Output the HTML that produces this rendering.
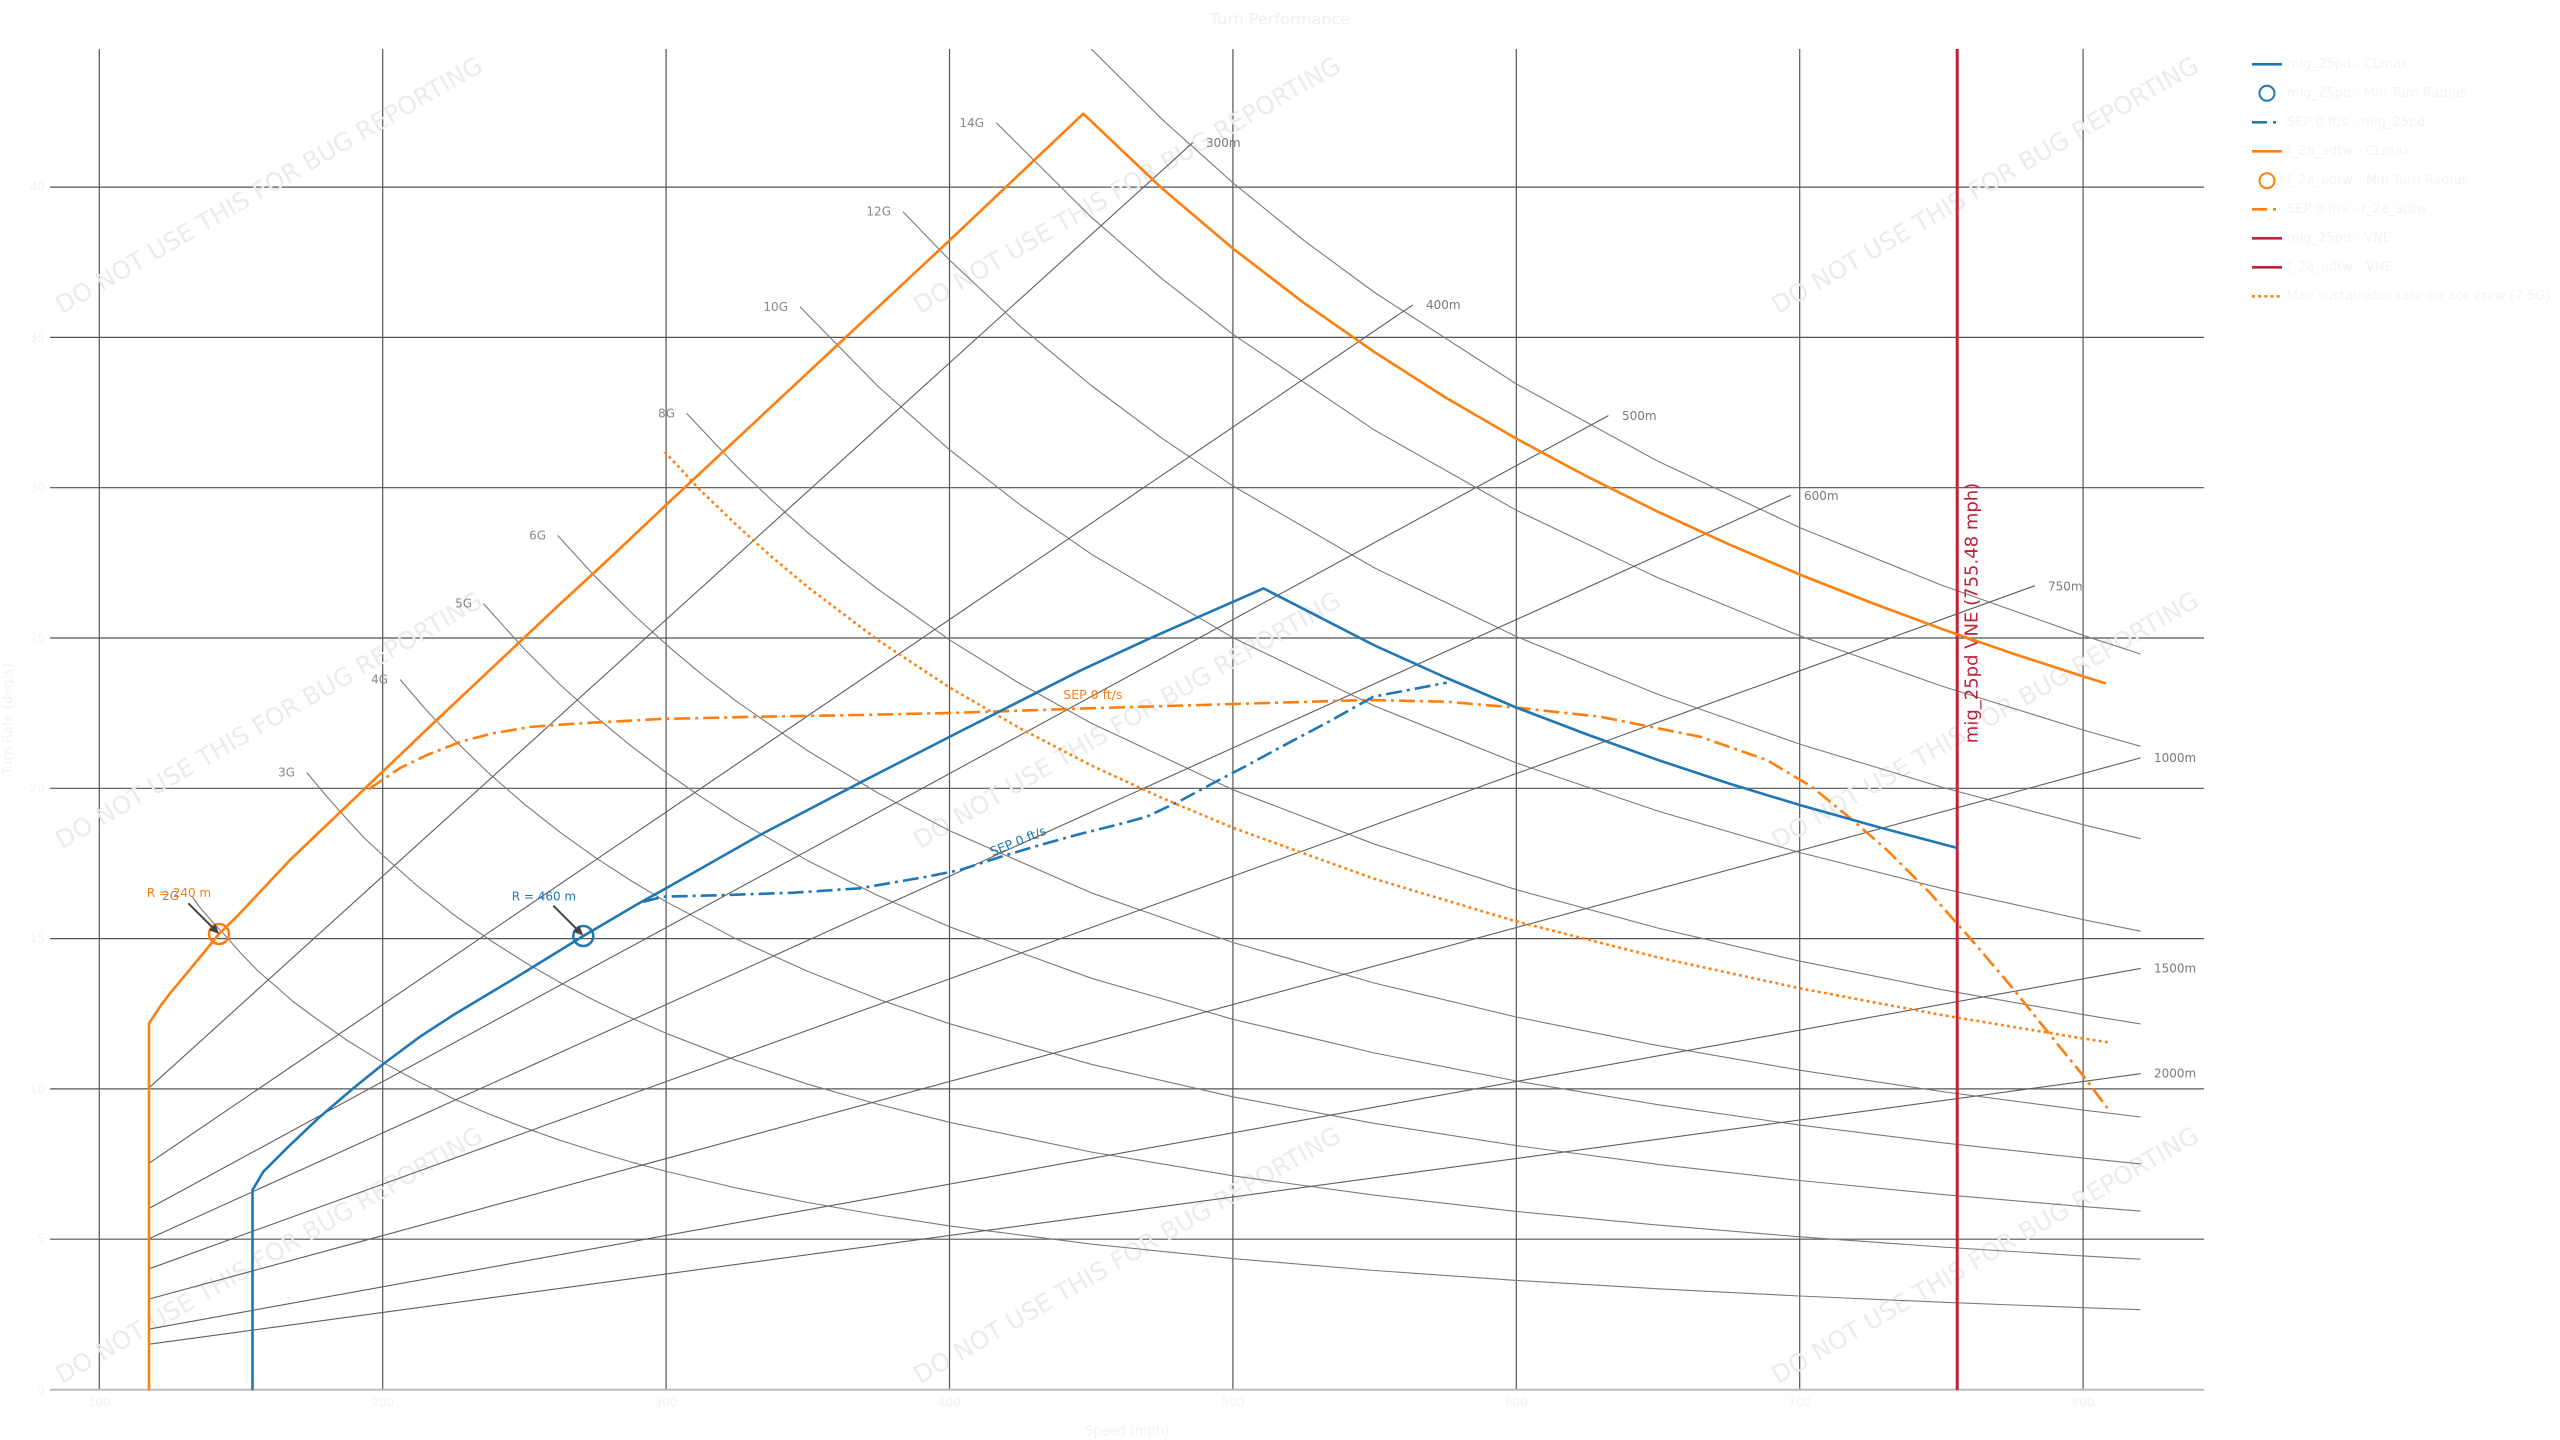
<!DOCTYPE html>
<html>
<head>
<meta charset="utf-8">
<style>
html,body{margin:0;padding:0;background:#ffffff;}
svg{display:block;}
text{font-family:"DejaVu Sans","Liberation Sans",sans-serif;}
.wm{font-family:"Liberation Sans","DejaVu Sans",sans-serif;font-size:24.5px;fill:#ebebeb;}
.gl{fill:none;stroke:#7a7a7a;stroke-width:1.1;stroke-linejoin:round;}
.rl{fill:none;stroke:#5e5e5e;stroke-width:1.1;}
.glab{font-size:12px;fill:#888888;}
.rlab{font-size:12px;fill:#7a7a7a;}
.tick{font-size:12px;fill:#f2f2f2;}
.leg{font-size:13px;fill:#f3f3f3;}
</style>
</head>
<body>
<svg width="2560" height="1440" viewBox="0 0 2560 1440" xmlns="http://www.w3.org/2000/svg">
<defs>
<clipPath id="ax"><rect x="50" y="49" width="2154" height="1341"/></clipPath>
</defs>
<rect x="0" y="0" width="2560" height="1440" fill="#ffffff"/>

<!-- title -->
<text x="1280" y="19" text-anchor="middle" dominant-baseline="central" font-size="16" fill="#f0f0f0">Turn Performance</text>

<!-- gridlines -->
<g stroke="#555555" stroke-width="1.2">
<line x1="99.3" y1="49" x2="99.3" y2="1389.5"/>
<line x1="382.7" y1="49" x2="382.7" y2="1389.5"/>
<line x1="666.1" y1="49" x2="666.1" y2="1389.5"/>
<line x1="949.5" y1="49" x2="949.5" y2="1389.5"/>
<line x1="1232.9" y1="49" x2="1232.9" y2="1389.5"/>
<line x1="1516.3" y1="49" x2="1516.3" y2="1389.5"/>
<line x1="1799.7" y1="49" x2="1799.7" y2="1389.5"/>
<line x1="2083.1" y1="49" x2="2083.1" y2="1389.5"/>
<line x1="50" y1="187.1" x2="2204" y2="187.1"/>
<line x1="50" y1="337.4" x2="2204" y2="337.4"/>
<line x1="50" y1="487.7" x2="2204" y2="487.7"/>
<line x1="50" y1="638" x2="2204" y2="638"/>
<line x1="50" y1="788.3" x2="2204" y2="788.3"/>
<line x1="50" y1="938.6" x2="2204" y2="938.6"/>
<line x1="50" y1="1088.9" x2="2204" y2="1088.9"/>
<line x1="50" y1="1239.2" x2="2204" y2="1239.2"/>
</g>
<line x1="50" y1="1389.7" x2="2204" y2="1389.7" stroke="#bbbbbb" stroke-width="2"/>

<!-- tick labels -->
<g class="tick" text-anchor="end" dominant-baseline="central">
<text x="45" y="1389.5">0</text>
<text x="45" y="1239.2">5</text>
<text x="45" y="1088.9">10</text>
<text x="45" y="938.6">15</text>
<text x="45" y="788.3">20</text>
<text x="45" y="638">25</text>
<text x="45" y="487.7">30</text>
<text x="45" y="337.4">35</text>
<text x="45" y="187.1">40</text>
</g>
<g class="tick" text-anchor="middle" dominant-baseline="central">
<text x="99.3" y="1402.5">100</text>
<text x="382.7" y="1402.5">200</text>
<text x="666.1" y="1402.5">300</text>
<text x="949.5" y="1402.5">400</text>
<text x="1232.9" y="1402.5">500</text>
<text x="1516.3" y="1402.5">600</text>
<text x="1799.7" y="1402.5">700</text>
<text x="2083.1" y="1402.5">800</text>
</g>
<text x="1127" y="1431.7" text-anchor="middle" dominant-baseline="central" font-size="13" fill="#f2f2f2">Speed (mph)</text>
<text transform="translate(12,719) rotate(-90)" text-anchor="middle" font-size="13" fill="#f2f2f2">Turn Rate (deg/s)</text>

<!-- watermarks -->
<g class="wm" text-anchor="middle" dominant-baseline="central">
<text x="269" y="185" transform="rotate(-30 269 185)">DO NOT USE THIS FOR BUG REPORTING</text>
<text x="1127" y="185" transform="rotate(-30 1127 185)">DO NOT USE THIS FOR BUG REPORTING</text>
<text x="1985" y="185" transform="rotate(-30 1985 185)">DO NOT USE THIS FOR BUG REPORTING</text>
<text x="269" y="720" transform="rotate(-30 269 720)">DO NOT USE THIS FOR BUG REPORTING</text>
<text x="1127" y="720" transform="rotate(-30 1127 720)">DO NOT USE THIS FOR BUG REPORTING</text>
<text x="1985" y="720" transform="rotate(-30 1985 720)">DO NOT USE THIS FOR BUG REPORTING</text>
<text x="269" y="1255" transform="rotate(-30 269 1255)">DO NOT USE THIS FOR BUG REPORTING</text>
<text x="1127" y="1255" transform="rotate(-30 1127 1255)">DO NOT USE THIS FOR BUG REPORTING</text>
<text x="1985" y="1255" transform="rotate(-30 1985 1255)">DO NOT USE THIS FOR BUG REPORTING</text>
</g>

<g clip-path="url(#ax)">
<!-- G lines -->
<polyline class="gl" points="191.7,896.0 200,907.5 212.7,922.1 226,936.4 240.9,953.2 258,971 276.4,986.8 293,1001.5 311.9,1015.5 347.3,1040.5 382.7,1062.3 418.1,1081.5 453.55,1098.7 489.0,1114.0 524.4,1127.7 559.8,1140.2 595.25,1151.5 630.7,1161.9 666.1,1171.4 736.95,1188.1 807.8,1202.5 878.65,1215.0 949.5,1225.9 1091.2,1244.1 1232.9,1258.6 1374.6,1270.5 1516.3,1280.4 1658,1288.8 1799.7,1296.0 1941.4,1302.2 2083.1,1307.7 2140.6,1309.7"/>
<polyline class="gl" points="306.7,772.5 326,795.5 347.3,819.6 364,837.6 382.7,855.2 418.1,886.6 453.55,914.55 489.0,939.5 524.4,962.0 559.8,982.4 595.25,1000.9 630.7,1017.8 666.1,1033.3 736.95,1060.7 807.8,1084.2 878.65,1104.5 949.5,1122.3 1091.2,1152.0 1232.9,1175.8 1374.6,1195.2 1516.3,1211.4 1658,1225.1 1799.7,1236.8 1941.4,1247.0 2083.1,1255.9 2140.6,1259.2"/>
<polyline class="gl" points="400,679.5 425.2,708.9 453.55,739.1 489.0,773.4 524.4,804.2 559.8,832.1 595.25,857.4 630.7,880.5 666.1,901.7 736.95,939.3 807.8,971.4 878.65,999.3 949.5,1023.7 1091.2,1064.3 1232.9,1096.8 1374.6,1123.4 1516.3,1145.6 1658,1164.4 1799.7,1180.5 1941.4,1194.4 2083.1,1206.6 2140.6,1211.1"/>
<polyline class="gl" points="483.3,603.5 524.4,649.1 559.8,684.4 595.25,716.4 630.7,745.7 666.1,772.5 701.5,797.2 736.95,820.0 807.8,860.7 878.65,895.9 949.5,926.8 1091.2,978.2 1232.9,1019.3 1374.6,1053.0 1516.3,1081.0 1658,1104.7 1799.7,1125.1 1941.4,1142.7 2083.1,1158.1 2140.6,1163.9"/>
<polyline class="gl" points="557.6,535.4 595.25,576.7 630.7,612.0 666.1,644.4 701.5,674.2 736.95,701.7 807.8,750.9 878.65,793.4 949.5,830.7 1091.2,892.8 1232.9,942.5 1374.6,983.1 1516.3,1017.0 1658,1045.6 1799.7,1070.2 1941.4,1091.5 2083.1,1110.1 2140.6,1117.0"/>
<polyline class="gl" points="686.5,413.3 736.95,466.8 772.4,500.9 807.8,532.7 843.2,562.2 878.65,589.8 949.5,639.8 1020.35,683.9 1091.2,723.1 1232.9,789.7 1374.6,844.2 1516.3,889.7 1658,928.1 1799.7,961.1 1941.4,989.6 2083.1,1014.6 2140.6,1023.9"/>
<polyline class="gl" points="799.9,306.8 878.65,387.0 949.5,449.7 1020.35,505.0 1091.2,554.1 1232.9,637.6 1374.6,706.0 1516.3,762.9 1658,811.1 1799.7,852.5 1941.4,888.3 2083.1,919.6 2140.6,931.2"/>
<polyline class="gl" points="903.0,211.7 949.5,260.0 1020.35,326.4 1091.2,385.5 1162.05,438.3 1232.9,485.9 1374.6,568.0 1516.3,636.5 1658,694.4 1799.7,744.1 1941.4,787.1 2083.1,824.7 2140.6,838.7"/>
<polyline class="gl" points="996.3,122.8 1091.2,217.1 1162.05,278.8 1232.9,334.3 1374.6,430.2 1516.3,510.2 1658,577.8 1799.7,635.8 1941.4,686.0 2083.1,730.0 2140.6,746.3"/>
<polyline class="gl" points="1077.0,33.7 1091.2,48.8 1162.05,119.3 1232.9,182.8 1303.75,240.3 1374.6,292.5 1516.3,383.9 1658,461.3 1799.7,527.6 1941.4,585.1 2083.1,635.3 2140.6,654.0"/>

<!-- radius lines -->
<line class="rl" x1="149.2" y1="1087.7" x2="1192.7" y2="142.7"/>
<line class="rl" x1="149.2" y1="1163.1" x2="1412.8" y2="304.9"/>
<line class="rl" x1="149.2" y1="1208.4" x2="1608.4" y2="415.6"/>
<line class="rl" x1="149.2" y1="1238.6" x2="1790.6" y2="495.4"/>
<line class="rl" x1="149.2" y1="1268.8" x2="2034.9" y2="585.7"/>
<line class="rl" x1="149.2" y1="1299.0" x2="2140.6" y2="757.9"/>
<line class="rl" x1="149.2" y1="1329.1" x2="2140.6" y2="968.4"/>
<line class="rl" x1="149.2" y1="1344.2" x2="2140.6" y2="1073.7"/>
</g>

<!-- G labels -->
<g class="glab" text-anchor="end" dominant-baseline="central">
<text x="179" y="896">2G</text>
<text x="295" y="772.5">3G</text>
<text x="388" y="679.5">4G</text>
<text x="472" y="603.5">5G</text>
<text x="546" y="535.4">6G</text>
<text x="675" y="413.3">8G</text>
<text x="788" y="306.8">10G</text>
<text x="891" y="211.7">12G</text>
<text x="984" y="122.8">14G</text>
</g>
<!-- radius labels -->
<g class="rlab" dominant-baseline="central">
<text x="1206" y="143">300m</text>
<text x="1426" y="305">400m</text>
<text x="1622" y="416">500m</text>
<text x="1804" y="496">600m</text>
<text x="2048" y="586.7">750m</text>
<text x="2154" y="758">1000m</text>
<text x="2154" y="968.4">1500m</text>
<text x="2154" y="1073.7">2000m</text>
</g>

<!-- VNE -->
<line x1="1957.2" y1="49" x2="1957.2" y2="1390" stroke="#c0203a" stroke-width="3"/>
<text transform="translate(1977.4,613) rotate(-90)" text-anchor="middle" font-size="18" fill="#c0203a">mig_25pd VNE (755.48 mph)</text>

<g clip-path="url(#ax)" fill="none" stroke-width="2.6" stroke-linejoin="round">
<!-- 7.5G dotted -->
<polyline stroke="#ff7f0e" stroke-dasharray="2.8 3.4" points="664.7,451.8 700,490 736.95,525.4 772.4,557.5 807.8,587.1 878.65,640.6 949.5,687.4 1020.35,728.5 1091.2,765.4 1162.05,798 1232.9,827.8 1374.6,878.9 1516.3,921.4 1658,957.4 1799.7,988.3 1941.4,1015.0 2083.1,1038.5 2108.6,1042.4"/>
<!-- orange SEP -->
<polyline stroke="#ff7f0e" stroke-dasharray="16 5 3 5" points="369,789 400,768 427,755 460,742 492,733.5 530,727 574,723.7 660,719 760,716.7 860,715 960,712.7 1080,708.6 1233.3,704 1366.7,700 1446.7,701.7 1516.7,707.7 1600,716.7 1700,736.7 1766.7,760 1811.7,786.7 1850,818 1887,850 1930,893 1969,937 2010,985 2051,1036 2085,1078 2108,1109"/>
<!-- blue SEP -->
<polyline stroke="#1f77b4" stroke-dasharray="16 5 3 5" points="643.3,901.7 663.3,896.7 726.7,895 793.3,892.7 860,888.3 926.7,876.7 960,870 1000,857 1040,845 1080,834 1120,824 1146.7,816.7 1180,801 1213.3,783 1246,766 1280,747.5 1330,721 1366.7,700.5 1373.3,696.7 1446.7,682.7"/>
<!-- orange CLmax -->
<polyline stroke="#ff7f0e" points="149,1390 149,1023.3 160,1006.7 170,993.3 186.7,973.3 210,945 219,934 236.7,916.7 290,860 436.7,720 560,604 608.3,559.5 666,505 949.4,240.5 1083.3,113.7 1162.05,188.4 1232.9,248.5 1303.75,302.8 1374.6,352.2 1445.5,397.5 1516.3,438.6 1587.2,476.6 1658,511.8 1728.9,544.3 1799.7,574.5 1870.6,602.5 1941.4,628.8 2012.3,653.4 2083.1,676.4 2105.8,683.4"/>
<!-- blue CLmax -->
<polyline stroke="#1f77b4" points="252.5,1390 252.5,1190 263.3,1171.7 286.7,1148.3 320,1116.7 353.3,1088.3 383.3,1064 420,1036.7 453.3,1015 486.7,995 520,975 583.3,936 640,902.7 660,891.7 760,835 860,782.7 960,731.5 1080,670.7 1150,638.3 1263.5,588.4 1374.6,645.5 1445.5,677.5 1516.3,707.5 1587.2,734.5 1658,760 1728.9,783.5 1799.7,805 1878,827 1956.9,847.9"/>
</g>

<!-- min turn radius markers & annotations -->
<circle cx="219" cy="934" r="10" fill="none" stroke="#ff7f0e" stroke-width="2.5"/>
<circle cx="583.3" cy="936" r="10" fill="none" stroke="#1f77b4" stroke-width="2.5"/>
<line x1="188.3" y1="903.3" x2="212.1" y2="927" stroke="#444444" stroke-width="2"/>
<polygon points="219.3,934 209.0,930.2 215.2,923.8" fill="#444444"/>
<line x1="553.3" y1="905.7" x2="576.2" y2="928.6" stroke="#444444" stroke-width="2"/>
<polygon points="583.3,935.7 573.0,931.8 579.4,925.4" fill="#444444"/>
<text x="146.7" y="893" dominant-baseline="central" font-size="12" fill="#ff7f0e">R = 240 m</text>
<text x="511.7" y="896.7" dominant-baseline="central" font-size="12" fill="#1f77b4">R = 460 m</text>

<!-- SEP labels -->
<text x="1063.3" y="694.3" dominant-baseline="central" font-size="12.5" fill="#ff7f0e">SEP 0 ft/s</text>
<text x="1018" y="841" text-anchor="middle" dominant-baseline="central" font-size="12.5" fill="#1f77b4" transform="rotate(-22 1018 841)">SEP 0 ft/s</text>

<!-- legend -->
<g fill="none" stroke-width="2.6">
<line x1="2252" y1="64.3" x2="2282" y2="64.3" stroke="#1f77b4"/>
<circle cx="2267" cy="93.3" r="7.5" stroke="#1f77b4" stroke-width="2"/>
<line x1="2252" y1="122.3" x2="2282" y2="122.3" stroke="#1f77b4" stroke-dasharray="15 6 3 10"/>
<line x1="2252" y1="151.3" x2="2282" y2="151.3" stroke="#ff7f0e"/>
<circle cx="2267" cy="180.7" r="7.5" stroke="#ff7f0e" stroke-width="2"/>
<line x1="2252" y1="209.3" x2="2282" y2="209.3" stroke="#ff7f0e" stroke-dasharray="15 6 3 10"/>
<line x1="2252" y1="238.3" x2="2282" y2="238.3" stroke="#c0203a"/>
<line x1="2252" y1="267.3" x2="2282" y2="267.3" stroke="#c0203a"/>
<line x1="2252" y1="296.3" x2="2282" y2="296.3" stroke="#ff7f0e" stroke-dasharray="2.8 3.4"/>
</g>
<g class="leg" dominant-baseline="central">
<text x="2287" y="64.3">mig_25pd - CLmax</text>
<text x="2287" y="93.3">mig_25pd - Min Turn Radius</text>
<text x="2287" y="122.3">SEP 0 ft/s - mig_25pd</text>
<text x="2287" y="151.3">f_2a_adtw - CLmax</text>
<text x="2287" y="180.7">f_2a_adtw - Min Turn Radius</text>
<text x="2287" y="209.3">SEP 0 ft/s - f_2a_adtw</text>
<text x="2287" y="238.3">mig_25pd - VNE</text>
<text x="2287" y="267.3">f_2a_adtw - VNE</text>
<text x="2287" y="296.3">Max sustainable rate on ace crew (7.5G)</text>
</g>
</svg>
</body>
</html>
